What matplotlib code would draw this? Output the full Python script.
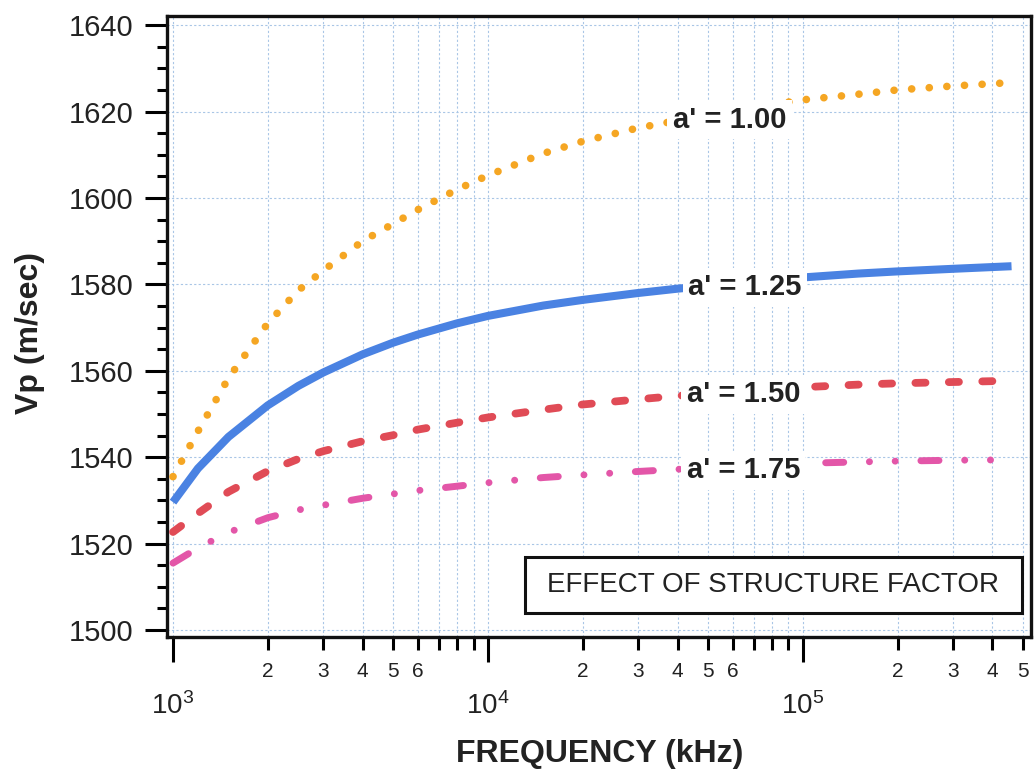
import matplotlib
matplotlib.use('Agg')
import matplotlib.pyplot as plt
from matplotlib.ticker import LogLocator, MultipleLocator, FuncFormatter
from matplotlib.patches import Rectangle

plt.rcParams['font.family'] = ['Liberation Sans', 'DejaVu Sans']

# frequency grid (kHz) and Vp (m/sec) for each structure factor a'
freq = [1e3, 1.2e3, 1.5e3, 2e3, 2.5e3, 3e3, 4e3, 5e3, 6e3, 8e3, 1e4,
        1.5e4, 2e4, 3e4, 4e4, 6e4, 8e4, 1e5, 1.5e5, 2e5, 3e5, 4.6e5]
vp_100 = [1535.5, 1546.0, 1558.3, 1571.0, 1578.6, 1583.2, 1590.0, 1594.0,
          1597.3, 1602.0, 1605.2, 1610.3, 1613.1, 1616.2, 1617.9, 1620.0,
          1621.6, 1622.7, 1624.0, 1625.0, 1625.9, 1626.7]
vp_125 = [1529.6, 1537.4, 1544.7, 1552.0, 1556.5, 1559.6, 1563.8, 1566.5,
          1568.4, 1571.0, 1572.7, 1575.1, 1576.4, 1578.0, 1579.0, 1580.2,
          1581.0, 1581.6, 1582.5, 1583.0, 1583.6, 1584.2]
vp_150 = [1522.7, 1527.0, 1532.0, 1536.8, 1539.6, 1541.4, 1543.7, 1545.1,
          1546.4, 1548.0, 1549.2, 1551.0, 1552.2, 1553.4, 1554.2, 1555.2,
          1555.8, 1556.2, 1556.8, 1557.1, 1557.4, 1557.7]
vp_175 = [1515.5, 1519.0, 1522.6, 1526.0, 1527.8, 1528.9, 1530.5, 1531.5,
          1532.3, 1533.3, 1534.1, 1535.3, 1535.9, 1536.7, 1537.2, 1537.9,
          1538.3, 1538.6, 1538.9, 1539.1, 1539.3, 1539.4]

labels = ["a' = 1.00", "a' = 1.25", "a' = 1.50", "a' = 1.75"]
label_x = [5.86e4, 6.56e4, 6.47e4, 6.47e4]
label_y = [1616.2, 1577.5, 1552.7, 1535.1]

TXT = '#222222'

fig = plt.figure(figsize=(10.34, 7.77), dpi=100)
ax = fig.add_axes([0.1615, 0.1802, 0.8355, 0.7992])

ax.plot(freq, vp_100, color='#f5a623', lw=5.5, ls=(0, (0.01, 2.3)),
        dash_capstyle='round', zorder=3)
ax.plot(freq, vp_125, color='#4a82e2', lw=5.8, solid_capstyle='butt', zorder=3)
ax.plot(freq, vp_150, color='#e04b56', lw=5.6, ls=(0, (1.3, 3.0)),
        dash_capstyle='round', zorder=3)
ax.plot(freq, vp_175, color='#e356a8', lw=5,
        ls=(0, (2.6, 3.7, 0.01, 3.7, 0.01, 3.7)),
        dash_capstyle='round', zorder=3)

for txt, x, y in zip(labels, label_x, label_y):
    ax.text(x, y, txt, ha='center', va='baseline', fontsize=21,
            fontweight='bold', color=TXT, zorder=4,
            bbox=dict(facecolor='white', edgecolor='none', pad=4))

ax.set_xscale('log')
ax.set_xlim(957, 5.3e5)
ax.set_ylim(1498.4, 1642.1)

# y axis: major every 20, minor every 5
ax.yaxis.set_major_locator(MultipleLocator(20))
ax.yaxis.set_minor_locator(MultipleLocator(5))

# x axis: decades plus labelled 2..6 subdivisions
ax.xaxis.set_major_locator(LogLocator(base=10, numticks=10))
ax.xaxis.set_minor_locator(LogLocator(base=10, subs=range(2, 10), numticks=30))

def minor_fmt(v, pos):
    m = round(v / 10 ** int(f'{v:e}'.split('e')[1]))
    return str(m) if 2 <= m <= 6 else ''

ax.xaxis.set_minor_formatter(FuncFormatter(minor_fmt))

ax.tick_params(axis='y', which='major', length=16, width=2.2, pad=8,
               labelsize=21, labelcolor=TXT)
ax.tick_params(axis='y', which='minor', length=7, width=2.2)
ax.tick_params(axis='x', which='major', length=18, width=2.2, pad=22,
               labelsize=20, labelcolor=TXT)
ax.tick_params(axis='x', which='minor', length=9, width=2.2, pad=9,
               labelsize=15, labelcolor=TXT)

for s in ax.spines.values():
    s.set_linewidth(2.4)
    s.set_color('#111111')

ax.grid(True, axis='x', which='both', color='#a9c6e6', lw=0.8, ls=(0, (2, 2)))
ax.grid(True, axis='y', which='major', color='#a9c6e6', lw=0.8, ls=(0, (2, 2)))
ax.set_axisbelow(True)

ax.set_xlabel('FREQUENCY (kHz)', fontsize=23, fontweight='bold', color=TXT)
ax.xaxis.set_label_coords(0.501, -0.165)
ax.set_ylabel('Vp (m/sec)', fontsize=23, fontweight='bold', color=TXT)
ax.yaxis.set_label_coords(-0.141, 0.49)

# caption box in the lower right corner
ax.add_patch(Rectangle((0.4144, 0.0386), 0.5752, 0.0902, transform=ax.transAxes,
                       facecolor='white', edgecolor='#111111', lw=2.2, zorder=5))
ax.text(0.7014, 0.0837, 'EFFECT OF STRUCTURE FACTOR', transform=ax.transAxes,
        ha='center', va='center', fontsize=20, color=TXT, zorder=6)

fig.savefig('out.png', dpi=100)
